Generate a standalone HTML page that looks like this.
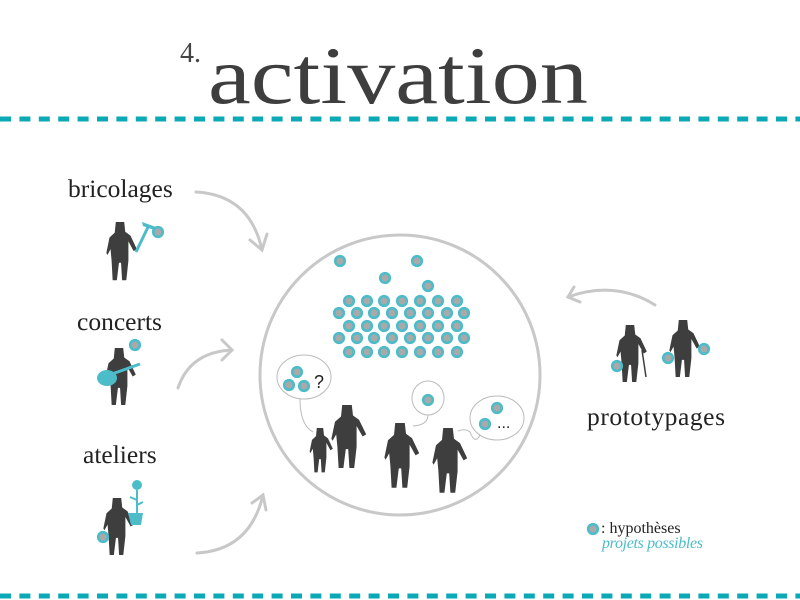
<!DOCTYPE html>
<html><head><meta charset="utf-8"><style>html,body{margin:0;padding:0;background:#fff}svg{display:block}</style></head>
<body>
<svg width="800" height="600" viewBox="0 0 800 600" xmlns="http://www.w3.org/2000/svg">
<defs>
<path id="p" d="M-4,0 L4,0 L5,10 L10,14 L16,28 L13,30 L8,20 L8,40 L6,60 L2,60 L1,42 L-1,42 L-3,60 L-7,60 L-8,40 L-9,28 L-12,34 L-13,32 L-10,16 L-5,11 Z" fill="#3e3e3e"/>
<g id="d"><circle r="4.8" fill="#a9a9a9" stroke="#4dbcc9" stroke-width="2.6"/></g>
</defs>
<line x1="0" y1="119" x2="800" y2="119" stroke="#0aa9b5" stroke-width="5" stroke-dasharray="11 8.4"/>
<line x1="0" y1="596" x2="800" y2="596" stroke="#0aa9b5" stroke-width="5" stroke-dasharray="11 8.4"/>
<text x="180" y="62" font-family="Liberation Serif, serif" font-size="28" fill="#444">4.</text>
<text x="208" y="103" font-family="Liberation Serif, serif" font-size="82" fill="#3e3e3e" textLength="380" lengthAdjust="spacingAndGlyphs">activation</text>
<g font-family="Liberation Serif, serif" font-size="25.5" fill="#222">
<text x="68" y="197">bricolages</text>
<text x="77" y="330">concerts</text>
<text x="83" y="463">ateliers</text>
<text x="587" y="425" textLength="138">prototypages</text>
</g>
<g fill="none" stroke="#c8c8c8" stroke-width="3" stroke-linecap="round">
<path d="M196,192 Q250,195 262,250"/><path d="M250,240 L262,250 L267,234"/>
<path d="M178,388 Q190,352 232,350"/><path d="M222,340 L232,350 L222,360"/>
<path d="M197,553 Q250,550 263,495"/><path d="M252,503 L263,495 L266,510"/>
<path d="M655,305 Q615,280 568,297"/><path d="M574,287 L568,297 L580,302"/>
<circle cx="400" cy="375" r="140" stroke-width="3"/>
</g>
<g>
<use href="#d" x="340" y="261"/><use href="#d" x="417" y="261"/><use href="#d" x="385" y="278"/><use href="#d" x="428" y="286"/>
<g transform="translate(0,301)"><use href="#d" x="349"/><use href="#d" x="367"/><use href="#d" x="384"/><use href="#d" x="402"/><use href="#d" x="420"/><use href="#d" x="438"/><use href="#d" x="457"/></g>
<g transform="translate(0,313)"><use href="#d" x="339"/><use href="#d" x="357"/><use href="#d" x="374"/><use href="#d" x="392"/><use href="#d" x="410"/><use href="#d" x="428"/><use href="#d" x="447"/><use href="#d" x="464"/></g>
<g transform="translate(0,326)"><use href="#d" x="349"/><use href="#d" x="367"/><use href="#d" x="384"/><use href="#d" x="402"/><use href="#d" x="420"/><use href="#d" x="438"/><use href="#d" x="457"/></g>
<g transform="translate(0,338)"><use href="#d" x="339"/><use href="#d" x="357"/><use href="#d" x="374"/><use href="#d" x="392"/><use href="#d" x="410"/><use href="#d" x="428"/><use href="#d" x="447"/><use href="#d" x="464"/></g>
<g transform="translate(0,352)"><use href="#d" x="349"/><use href="#d" x="367"/><use href="#d" x="384"/><use href="#d" x="402"/><use href="#d" x="420"/><use href="#d" x="438"/><use href="#d" x="457"/></g>
</g>
<g fill="none" stroke="#bbb" stroke-width="1">
<ellipse cx="304" cy="377" rx="27" ry="22" fill="#fff"/><path d="M300,399 Q300,425 313,432"/>
<ellipse cx="428" cy="398" rx="16" ry="17" fill="#fff"/><path d="M428,415 Q428,425 413,426"/>
<ellipse cx="497" cy="418" rx="27" ry="22" fill="#fff"/><path d="M480,435 Q475,445 470,432 Q465,428 458,431"/>
</g>
<use href="#d" x="297" y="372"/><use href="#d" x="289" y="385"/><use href="#d" x="304" y="386"/>
<text x="314" y="388" font-family="Liberation Sans, sans-serif" font-size="18" fill="#222">?</text>
<use href="#d" x="428" y="400"/>
<use href="#d" x="497" y="408"/><use href="#d" x="485" y="424"/>
<text x="497" y="428" font-family="Liberation Sans, sans-serif" font-size="16" fill="#222">...</text>
<use href="#p" transform="translate(320,428) scale(0.8,0.74)"/>
<use href="#p" transform="translate(347,405) scale(1.2,1.05)"/>
<use href="#p" transform="translate(400,423) scale(1.2,1.08)"/>
<use href="#p" transform="translate(448,428) scale(1.2,1.08)"/>
<use href="#p" transform="translate(120,222) scale(1.05,0.97)"/>
<path d="M136,252 L149,225" stroke="#4dbcc9" stroke-width="3"/>
<path d="M142,222 L156,227 L154,230 L143,226Z" fill="#4dbcc9"/>
<use href="#d" x="158" y="232"/>
<use href="#p" transform="translate(119,348) scale(1.05,0.95)"/>
<ellipse cx="107" cy="378" rx="10" ry="8" fill="#4dbcc9"/>
<path d="M112,374 L140,364" stroke="#4dbcc9" stroke-width="3"/>
<use href="#d" x="135" y="345"/>
<use href="#p" transform="translate(117,498) scale(1.05,0.95)"/>
<path d="M128,513 L143,513 L141,525 L131,525Z" fill="#4dbcc9"/>
<path d="M137,513 L137,490" stroke="#4dbcc9" stroke-width="2"/>
<circle cx="137" cy="485" r="5" fill="#4dbcc9"/>
<path d="M137,500 L130,497 M137,505 L143,502" stroke="#4dbcc9" stroke-width="2"/>
<use href="#d" x="103" y="537"/>
<use href="#p" transform="translate(630,325) scale(1.05,0.95)"/>
<path d="M642,350 L646,377" stroke="#3e3e3e" stroke-width="1.5"/>
<use href="#p" transform="translate(683,320) scale(1.05,0.95)"/>
<use href="#d" x="617" y="366"/><use href="#d" x="668" y="358"/><use href="#d" x="704" y="349"/>
<use href="#d" x="593" y="529"/>
<text x="601" y="533" font-family="Liberation Serif, serif" font-size="16" fill="#222">: hypothèses</text>
<text x="602" y="548" font-family="Liberation Serif, serif" font-size="16" font-style="italic" fill="#4dbcc9" textLength="101">projets possibles</text>
</svg>
</body></html>
